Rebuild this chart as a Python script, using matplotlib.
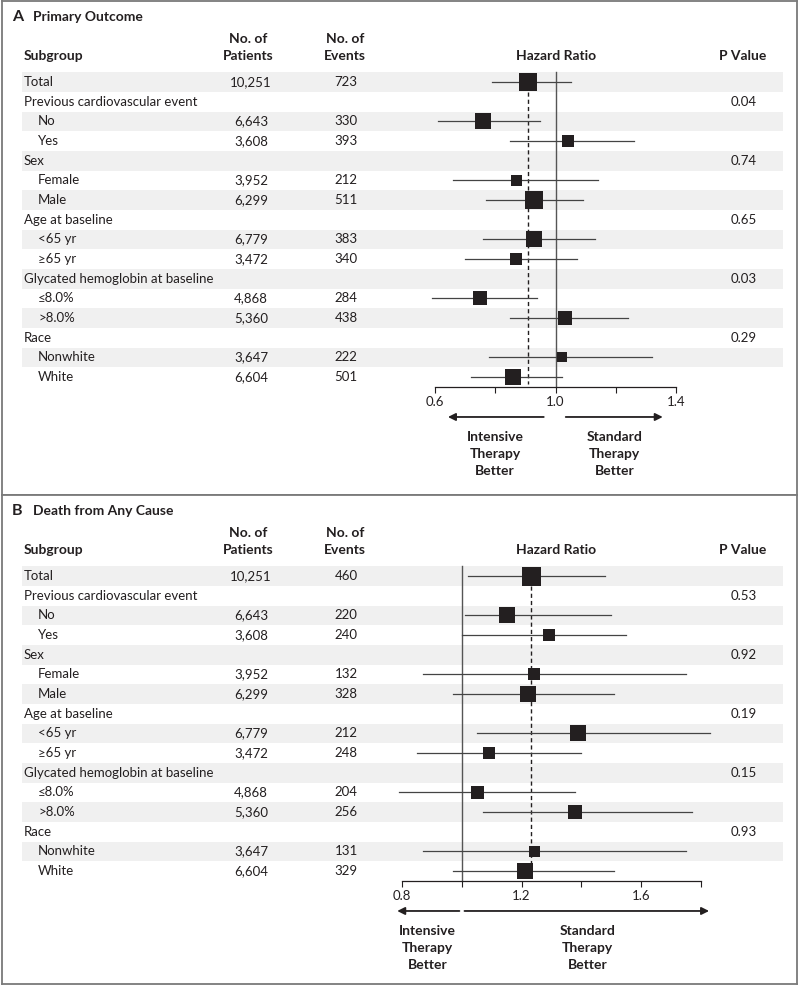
import matplotlib
matplotlib.use("Agg")
import matplotlib.pyplot as plt

plt.rcParams['font.family'] = ['Lato', 'DejaVu Sans']

INK = '#231f20'

# --- table data (shared by both panels) ---
labels = ["Total", "Previous cardiovascular event", "No", "Yes", "Sex", "Female", "Male",
          "Age at baseline", "<65 yr", "\u226565 yr", "Glycated hemoglobin at baseline",
          "\u22648.0%", ">8.0%", "Race", "Nonwhite", "White"]
indent = [0, 0, 1, 1, 0, 1, 1, 0, 1, 1, 0, 1, 1, 0, 1, 1]
patients = ["10,251", "", "6,643", "3,608", "", "3,952", "6,299", "", "6,779", "3,472",
            "", "4,868", "5,360", "", "3,647", "6,604"]

# --- panel A: primary outcome ---
events_a = ["723", "", "330", "393", "", "212", "511", "", "383", "340",
            "", "284", "438", "", "222", "501"]
hr_a = [0.91, None, 0.76, 1.04, None, 0.87, 0.93, None, 0.93, 0.87, None, 0.75, 1.03, None, 1.02, 0.86]
lo_a = [0.79, None, 0.61, 0.85, None, 0.66, 0.77, None, 0.76, 0.70, None, 0.59, 0.85, None, 0.78, 0.72]
hi_a = [1.05, None, 0.95, 1.26, None, 1.14, 1.09, None, 1.13, 1.07, None, 0.94, 1.24, None, 1.32, 1.02]
weight_a = [18.7, None, 15.7, 11.3, None, 11, 18.7, None, 15.3, 11.3, None, 13.3, 14.7, None, 10.3, 15.7]
pval_a = ["", "0.04", "", "", "0.74", "", "", "0.65", "", "", "0.03", "", "", "0.29", "", ""]

# --- panel B: death from any cause ---
events_b = ["460", "", "220", "240", "", "132", "328", "", "212", "248",
            "", "204", "256", "", "131", "329"]
hr_b = [1.23, None, 1.15, 1.29, None, 1.24, 1.22, None, 1.39, 1.09, None, 1.05, 1.38, None, 1.24, 1.21]
lo_b = [1.02, None, 1.01, 1.00, None, 0.87, 0.97, None, 1.05, 0.85, None, 0.79, 1.07, None, 0.87, 0.97]
hi_b = [1.48, None, 1.50, 1.55, None, 1.75, 1.51, None, 1.83, 1.40, None, 1.38, 1.77, None, 1.75, 1.51]
weight_b = [19, None, 16, 11.3, None, 11.3, 15.3, None, 15.7, 11.3, None, 13, 14.7, None, 11, 15.3]
pval_b = ["", "0.53", "", "", "0.92", "", "", "0.19", "", "", "0.15", "", "", "0.93", "", ""]

W, H = 800, 985
ROW0, STEP = 81.0, 19.67
X0, X1 = 2, 797

fig = plt.figure(figsize=(8, 9.85), dpi=100)


def draw_panel(top, bottom, letter, title, events, hr, lo, hi, weight, pvals,
               ref, ticks, ticklabels, larrow, rarrow, ltext_x, rtext_x):
    pos = [X0 / W, 1 - bottom / H, (X1 - X0) / W, (bottom - top) / H]
    row_top = (0 - ROW0) / STEP
    row_bot = (bottom - top - ROW0) / STEP

    # table axes: x in pixels, y in rows
    tab = fig.add_axes(pos)
    tab.set_xlim(X0, X1)
    tab.set_ylim(row_bot, row_top)
    tab.set_xticks([])
    tab.set_yticks([])
    for s in tab.spines.values():
        s.set_color('#7a7a7a')
        s.set_linewidth(1.3)

    n = len(labels)
    shade = [i for i in range(n) if i % 2 == 0]
    tab.barh(shade, [761] * len(shade), left=22, height=1.0, color='#f0f0f0', zorder=0)

    tab.text(12, -3.3, letter, fontsize=11.5, fontweight='bold', color=INK, va='center')
    tab.text(33, -3.3, title, fontsize=10, fontweight='bold', color=INK, va='center')
    hdr = dict(fontsize=10, fontweight='bold', color=INK, va='center')
    tab.text(24, -1.32, "Subgroup", ha='left', **hdr)
    tab.text(248, -2.2, "No. of", ha='center', **hdr)
    tab.text(248, -1.32, "Patients", ha='center', **hdr)
    tab.text(345, -2.2, "No. of", ha='center', **hdr)
    tab.text(345, -1.32, "Events", ha='center', **hdr)
    tab.text(556, -1.32, "Hazard Ratio", ha='center', **hdr)
    tab.text(743, -1.32, "P Value", ha='center', **hdr)

    txt = dict(fontsize=9.5, color=INK, va='center')
    for i in range(n):
        tab.text(24 + 14 * indent[i], i, labels[i], ha='left', **txt)
        tab.text(251, i, patients[i], ha='center', **txt)
        tab.text(346, i, events[i], ha='center', **txt)
        tab.text(744, i, pvals[i], ha='center', **txt)

    # forest axes overlay: x in hazard ratio
    (h0, p0), (h1, p1) = ref
    k = (h1 - h0) / (p1 - p0)
    fx = fig.add_axes(pos, sharey=tab)
    fx.patch.set_visible(False)
    fx.set_xlim(h0 + (X0 - p0) * k, h0 + (X1 - p0) * k)
    for side in ['top', 'left', 'right']:
        fx.spines[side].set_visible(False)
    axis_row = 15.49
    fx.spines['bottom'].set_position(('data', axis_row))
    fx.spines['bottom'].set_bounds(ticks[0], ticks[-1])
    fx.spines['bottom'].set_color(INK)
    fx.spines['bottom'].set_linewidth(0.9)
    fx.set_xticks(ticks)
    fx.set_xticklabels(ticklabels)
    fx.tick_params(axis='x', direction='out', length=4.5, width=0.8, pad=2.5,
                   labelsize=9.5, colors=INK)
    fx.tick_params(axis='y', left=False, labelleft=False)

    fx.plot([1, 1], [-0.5, axis_row], color='#555555', lw=1.0, zorder=1)
    fx.plot([hr[0], hr[0]], [0.5, axis_row - 0.15], color=INK, lw=1.0,
            linestyle=(0, (3, 2.2)), zorder=1)

    for i in range(n):
        if hr[i] is None:
            continue
        fx.plot([lo[i], hi[i]], [i, i], color='#444444', lw=0.9, zorder=2)
        fx.plot(hr[i], i, marker='s', markersize=weight[i] * 0.72, color=INK,
                markeredgewidth=0, zorder=3)

    arrow_row = 17.03
    for a, b in [larrow, rarrow]:
        fx.annotate('', xy=(b, arrow_row), xytext=(a, arrow_row),
                    arrowprops=dict(arrowstyle='-|>', color=INK, lw=1.3,
                                    mutation_scale=11, shrinkA=0, shrinkB=0))
    for j, word in enumerate(["Intensive", "Therapy", "Better"]):
        fx.text(ltext_x, 18.05 + 0.86 * j, word, ha='center', va='center',
                fontsize=10, fontweight='bold', color=INK)
    for j, word in enumerate(["Standard", "Therapy", "Better"]):
        fx.text(rtext_x, 18.05 + 0.86 * j, word, ha='center', va='center',
                fontsize=10, fontweight='bold', color=INK)


draw_panel(1, 495, "A", "Primary Outcome", events_a, hr_a, lo_a, hi_a, weight_a, pval_a,
           ref=[(0.6, 435), (1.4, 676)],
           ticks=[0.6, 0.8, 1.0, 1.2, 1.4], ticklabels=["0.6", "", "1.0", "", "1.4"],
           larrow=(0.961, 0.643), rarrow=(1.034, 1.356), ltext_x=0.80, rtext_x=1.196)

draw_panel(495, 984, "B", "Death from Any Cause", events_b, hr_b, lo_b, hi_b, weight_b, pval_b,
           ref=[(0.8, 402), (1.8, 701)],
           ticks=[0.8, 1.0, 1.2, 1.4, 1.6, 1.8], ticklabels=["0.8", "", "1.2", "", "1.6", ""],
           larrow=(0.992, 0.784), rarrow=(1.009, 1.827), ltext_x=0.886, rtext_x=1.42)

fig.savefig("out.png", dpi=100)
